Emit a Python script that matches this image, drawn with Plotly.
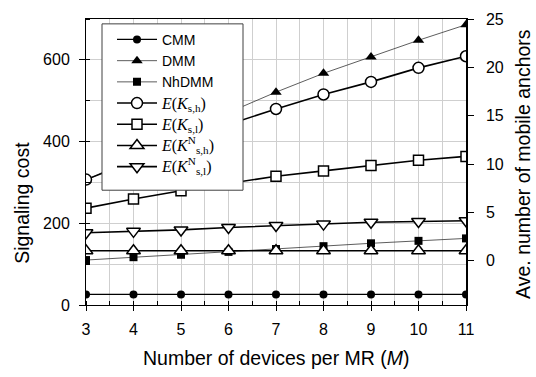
import plotly.graph_objects as go

M = [3, 4, 5, 6, 7, 8, 9, 10, 11]

# Signaling cost (left axis)
cmm = [26, 26, 26, 26, 26, 26, 26, 26, 26]
dmm = [305, 362, 418, 471, 521, 567, 607, 648, 686]
nhdmm = [110, 117, 123, 130, 137, 144, 151, 157, 163]

# Ave. number of mobile anchors (right axis)
ek_sh = [8.4, 10.3, 12.2, 14.1, 15.7, 17.2, 18.5, 19.95, 21.15]
ek_sl = [5.45, 6.4, 7.25, 8.0, 8.75, 9.3, 9.85, 10.4, 10.8]
ekn_sh = [1.05, 1.05, 1.05, 1.05, 1.05, 1.05, 1.05, 1.05, 1.05]
ekn_sl = [2.9, 3.05, 3.2, 3.45, 3.65, 3.8, 4.0, 4.07, 4.15]

SERIF = "font-family:'Liberation Serif','Times New Roman',serif;font-size:16px"
names = ["CMM", "DMM", "NhDMM",
         f"<span style=\"{SERIF}\"><i>E</i>(<i>K</i><sub>s,h</sub>)</span>",
         f"<span style=\"{SERIF}\"><i>E</i>(<i>K</i><sub>s,l</sub>)</span>",
         f"<span style=\"{SERIF}\"><i>E</i>(<i>K</i><sup>N</sup><sub>s,h</sub>)</span>",
         f"<span style=\"{SERIF}\"><i>E</i>(<i>K</i><sup>N</sup><sub>s,l</sub>)</span>"]

fig = go.Figure()

fig.add_trace(go.Scatter(x=M, y=cmm, name=names[0], mode="lines+markers",
                         line=dict(color="black", width=1.2),
                         marker=dict(symbol="circle", size=8, color="black")))
fig.add_trace(go.Scatter(x=M, y=dmm, name=names[1], mode="lines+markers",
                         line=dict(color="#333333", width=0.8),
                         marker=dict(symbol="triangle-up", size=10, color="black")))
fig.add_trace(go.Scatter(x=M, y=nhdmm, name=names[2], mode="lines+markers",
                         line=dict(color="#333333", width=0.8),
                         marker=dict(symbol="square", size=8, color="black")))

open_style = dict(color="white", line=dict(color="black", width=1.5))
for vals, nm, sym, sz in [(ek_sh, names[3], "circle", 11),
                          (ek_sl, names[4], "square", 10),
                          (ekn_sh, names[5], "triangle-up", 12),
                          (ekn_sl, names[6], "triangle-down", 12)]:
    fig.add_trace(go.Scatter(x=M, y=vals, name=nm, mode="lines+markers", yaxis="y2",
                             line=dict(color="black", width=1.6),
                             marker=dict(symbol=sym, size=sz, **open_style)))

SANS = "Liberation Sans, Arial"
tick_font = dict(family=SANS, size=16, color="black")
title_font = dict(family=SANS, size=19.5, color="black")

# plot area: x 86..466 px, y 11..305 px
def px_x(p):
    return (p - 86) / 380

def px_y(p):
    return (305 - p) / 294

fig.update_layout(
    width=536, height=377,
    margin=dict(l=86, r=70, t=11, b=72),
    paper_bgcolor="white", plot_bgcolor="white",
    font=tick_font,
    showlegend=True,
    legend=dict(x=px_x(112), y=px_y(16), xanchor="left", yanchor="top",
                bgcolor="rgba(0,0,0,0)", borderwidth=0,
                font=dict(family=SANS, size=14, color="black"),
                tracegroupgap=0, itemwidth=40),
    xaxis=dict(range=[3, 11], tickvals=M, showline=True, linecolor="black", linewidth=1,
               mirror=True, ticks="outside", ticklen=5, tickcolor="black",
               ticklabelstandoff=5,
               showgrid=True, gridcolor="#cfcfcf", gridwidth=1,
               minor=dict(dtick=0.5, showgrid=True, gridcolor="#cfcfcf", ticks="inside",
                          ticklen=4, tickcolor="black"),
               zeroline=False, tickfont=tick_font),
    yaxis=dict(range=[0, 700], tickvals=[0, 200, 400, 600], showline=True, linecolor="black",
               linewidth=1, ticks="outside", ticklen=6, tickcolor="black",
               ticklabelstandoff=6,
               showgrid=True, gridcolor="#cfcfcf",
               minor=dict(dtick=100, tick0=0, showgrid=True, gridcolor="#cfcfcf",
                          ticks="inside", ticklen=4, tickcolor="black"),
               zeroline=False, tickfont=tick_font),
    yaxis2=dict(overlaying="y", side="right", range=[-4.56, 25],
                tickvals=[0, 5, 10, 15, 20, 25], showline=True, linecolor="black",
                linewidth=1.5, ticks="outside", ticklen=6, tickcolor="black",
                ticklabelstandoff=9,
                showgrid=False, zeroline=False, tickfont=tick_font),
    shapes=[
        dict(type="rect", xref="paper", yref="paper", layer="above",
             x0=px_x(102), x1=px_x(243), y0=px_y(187), y1=px_y(16),
             fillcolor="white", line=dict(color="#404040", width=1)),
    ],
    annotations=[
        dict(text="Number of devices per MR (<i>M</i>)", xref="paper", yref="paper",
             x=0.5, y=px_y(359), xanchor="center", yanchor="middle", showarrow=False,
             font=title_font),
        dict(text="Signaling cost", xref="paper", yref="paper",
             x=px_x(22), y=px_y(200), xanchor="center", yanchor="middle",
             textangle=-90, showarrow=False, font=title_font),
        dict(text="Ave. number of mobile anchors", xref="paper", yref="paper",
             x=px_x(523), y=px_y(160), xanchor="center", yanchor="middle",
             textangle=-90, showarrow=False, font=title_font),
    ],
)

fig.write_html("out.html")
